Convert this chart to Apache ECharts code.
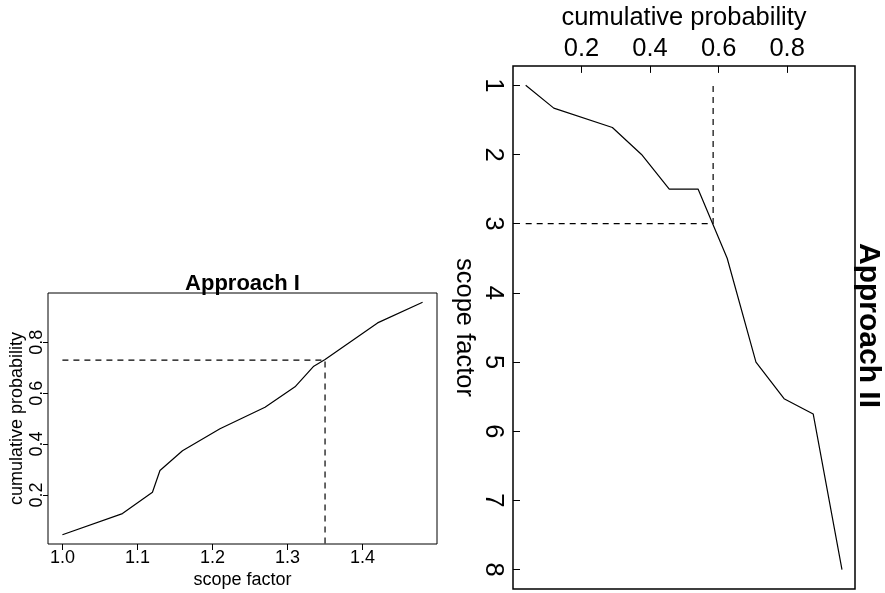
<!DOCTYPE html>
<html>
<head>
<meta charset="utf-8">
<script src="https://cdn.jsdelivr.net/npm/echarts@6/dist/echarts.min.js"></script>
<style>
  html, body { margin: 0; padding: 0; background: #fff; }
  #chart { width: 885px; height: 593px; }
</style>
</head>
<body>
<div id="chart"></div>
<script>
// Approach I: scope factor vs cumulative probability
const scopeI = [1.00, 1.08, 1.12, 1.13, 1.16, 1.21, 1.27, 1.31, 1.335, 1.35, 1.42, 1.48];
const probI  = [0.044, 0.127, 0.211, 0.296, 0.374, 0.46, 0.545, 0.625, 0.706, 0.732, 0.876, 0.957];
// Approach II: cumulative probability vs scope factor (drawn sideways)
const probII  = [0.037, 0.119, 0.290, 0.375, 0.456, 0.540, 0.625, 0.709, 0.791, 0.876, 0.960];
const scopeII = [1.0, 1.33, 1.61, 2.0, 2.5, 2.5, 3.5, 5.0, 5.53, 5.75, 8.0];
// guide lines
const guideI  = { scope: 1.35, prob: 0.73 };
const guideII = { scope: 3, prob: 0.584 };
// tick labels
const ticksScopeI = [1.0, 1.1, 1.2, 1.3, 1.4];
const ticksProbI  = [0.2, 0.4, 0.6, 0.8];
const ticksProbII = [0.2, 0.4, 0.6, 0.8];
const ticksScopeII = [1, 2, 3, 4, 5, 6, 7, 8];

const FONT = '"Liberation Sans", Arial, Helvetica, sans-serif';

function pairs(xs, ys) {
  return xs.map((x, i) => [x, ys[i]]);
}

var chart = echarts.init(document.getElementById('chart'));

var lineStyle = { color: '#000', width: 1.2 };
var dashStyle = { color: '#000', width: 1.2, type: [6, 5] };

var option = {
  animation: false,
  backgroundColor: '#fff',
  title: {
    text: 'Approach I',
    left: 242.5,
    top: 273,
    textAlign: 'center',
    padding: 0,
    textStyle: { fontFamily: FONT, fontSize: 22, fontWeight: 'bold', color: '#000' }
  },
  graphic: [{
    type: 'text',
    x: 868,
    y: 325.5,
    rotation: -Math.PI / 2,
    style: {
      text: 'Approach II',
      fontFamily: FONT, fontSize: 30, fontWeight: 'bold',
      fill: '#000',
      align: 'center',
      verticalAlign: 'middle'
    }
  }],
  grid: [
    { left: 48, top: 293, width: 389, height: 251, show: true, borderColor: '#000', borderWidth: 1, backgroundColor: 'transparent' },
    { left: 513, top: 62, width: 342, height: 527, show: true, borderColor: '#000', borderWidth: 1.5, backgroundColor: 'transparent' }
  ],
  xAxis: [
    {
      gridIndex: 0, type: 'value', min: 0.9808, max: 1.4992,
      name: 'scope factor', nameLocation: 'middle', nameGap: 27,
      nameTextStyle: { fontFamily: FONT, fontSize: 18, color: '#000' },
      axisLine: { show: false },
      splitLine: { show: false },
      axisTick: { show: true, length: 6, inside: false, customValues: ticksScopeI, lineStyle: { color: '#000' } },
      axisLabel: { customValues: ticksScopeI, formatter: v => v.toFixed(1), margin: 5,
                   fontFamily: FONT, fontSize: 18, color: '#000' }
    },
    {
      gridIndex: 1, type: 'value', position: 'top', min: 0, max: 0.998,
      name: 'cumulative probability', nameLocation: 'middle', nameGap: 28,
      nameTextStyle: { fontFamily: FONT, fontSize: 25.5, color: '#000' },
      axisLine: { show: false },
      splitLine: { show: false },
      axisTick: { show: true, length: 7, inside: true, customValues: ticksProbII, lineStyle: { color: '#000' } },
      axisLabel: { customValues: ticksProbII, formatter: v => v.toFixed(1), margin: 4,
                   fontFamily: FONT, fontSize: 25.5, color: '#000' }
    }
  ],
  yAxis: [
    {
      gridIndex: 0, type: 'value', min: 0.0075, max: 0.9935,
      name: 'cumulative probability', nameLocation: 'middle', nameGap: 22, nameRotate: 90,
      nameTextStyle: { fontFamily: FONT, fontSize: 18, color: '#000' },
      axisLine: { show: false },
      splitLine: { show: false },
      axisTick: { show: true, length: 5, inside: false, customValues: ticksProbI, lineStyle: { color: '#000' } },
      axisLabel: { customValues: ticksProbI, formatter: v => v.toFixed(1), rotate: 90, margin: 2,
                   fontFamily: FONT, fontSize: 18, color: '#000' }
    },
    {
      gridIndex: 1, type: 'value', inverse: true, min: 0.72, max: 8.28,
      name: 'scope factor', nameLocation: 'middle', nameGap: 36, nameRotate: -90,
      nameTextStyle: { fontFamily: FONT, fontSize: 25.5, color: '#000' },
      axisLine: { show: false },
      splitLine: { show: false },
      axisTick: { show: true, length: 7, inside: true, customValues: ticksScopeII, lineStyle: { color: '#000' } },
      axisLabel: { customValues: ticksScopeII, rotate: -90, margin: 7,
                   fontFamily: FONT, fontSize: 25.5, color: '#000' }
    }
  ],
  series: [
    {
      name: 'Approach I', type: 'line', xAxisIndex: 0, yAxisIndex: 0,
      data: pairs(scopeI, probI), showSymbol: false, lineStyle: lineStyle
    },
    {
      name: 'guide I', type: 'line', xAxisIndex: 0, yAxisIndex: 0,
      data: [[scopeI[0], guideI.prob], [guideI.scope, guideI.prob], [guideI.scope, 0]],
      showSymbol: false, lineStyle: dashStyle
    },
    {
      name: 'Approach II', type: 'line', xAxisIndex: 1, yAxisIndex: 1,
      data: pairs(probII, scopeII), showSymbol: false, lineStyle: lineStyle
    },
    {
      name: 'guide II', type: 'line', xAxisIndex: 1, yAxisIndex: 1,
      data: [[probII[0], guideII.scope], [guideII.prob, guideII.scope], [guideII.prob, scopeII[0]]],
      showSymbol: false, lineStyle: dashStyle
    }
  ]
};

chart.setOption(option);
</script>
</body>
</html>
